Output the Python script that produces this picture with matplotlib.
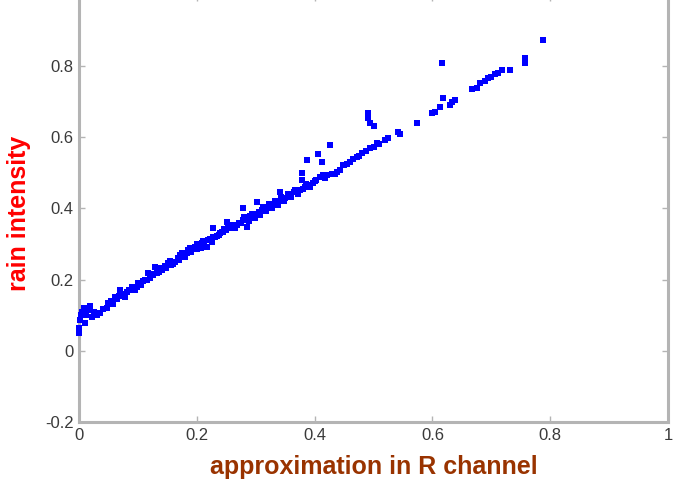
import matplotlib.pyplot as plt

# approximation in R channel vs rain intensity
approx_r = [0.0, 0.0, 0.002, 0.003, 0.005, 0.008, 0.01, 0.012, 0.015, 0.018, 0.022, 0.025, 0.03, 0.035,
            0.048, 0.049, 0.055, 0.061, 0.065, 0.07, 0.074, 0.078, 0.082, 0.09, 0.095, 0.1, 0.105,
            0.112, 0.117, 0.12, 0.125, 0.129, 0.135, 0.141, 0.146, 0.151, 0.157, 0.163, 0.168,
            0.175, 0.18, 0.185, 0.19, 0.197, 0.2, 0.205, 0.209, 0.211, 0.217, 0.219, 0.225, 0.228,
            0.228, 0.231, 0.238, 0.243, 0.245, 0.25, 0.251, 0.256, 0.262, 0.268, 0.272, 0.278,
            0.278, 0.283, 0.285, 0.29, 0.296, 0.3, 0.302, 0.305, 0.31, 0.315, 0.319, 0.325, 0.33,
            0.336, 0.341, 0.345, 0.35, 0.358, 0.365, 0.37, 0.375, 0.378, 0.378, 0.383, 0.387,
            0.39, 0.397, 0.403, 0.406, 0.409, 0.412, 0.415, 0.421, 0.426, 0.43, 0.438, 0.443,
            0.448, 0.45, 0.46, 0.472, 0.476, 0.48, 0.487, 0.49, 0.49, 0.494, 0.494, 0.5, 0.5,
            0.506, 0.51, 0.52, 0.525, 0.542, 0.545, 0.574, 0.599, 0.605, 0.613, 0.616, 0.618,
            0.63, 0.634, 0.638, 0.667, 0.675, 0.681, 0.69, 0.694, 0.7, 0.706, 0.712, 0.718,
            0.732, 0.757, 0.757, 0.788,
            # denser part of the band
            0.04, 0.058, 0.068, 0.085, 0.098, 0.108, 0.115, 0.122, 0.132, 0.138, 0.148, 0.155,
            0.16, 0.17, 0.172, 0.178, 0.183, 0.188, 0.193, 0.2, 0.207, 0.213, 0.222, 0.234,
            0.24, 0.247, 0.253, 0.26, 0.265, 0.275, 0.28, 0.288, 0.293, 0.298, 0.307, 0.312,
            0.318, 0.322, 0.328, 0.333, 0.338, 0.343, 0.348, 0.355, 0.36, 0.367, 0.372, 0.38,
            0.385, 0.393, 0.4, 0.414, 0.418, 0.435, 0.455, 0.465]
rain_int = [0.05, 0.065, 0.087, 0.10, 0.11, 0.12, 0.078, 0.10, 0.115, 0.125, 0.095, 0.11, 0.10, 0.105,
            0.12, 0.134, 0.14, 0.151, 0.145, 0.171, 0.16, 0.151, 0.165, 0.179, 0.172, 0.19, 0.185,
            0.199, 0.219, 0.205, 0.212, 0.235, 0.222, 0.227, 0.238, 0.247, 0.24, 0.25, 0.262,
            0.275, 0.265, 0.283, 0.278, 0.292, 0.285, 0.298, 0.303, 0.31, 0.292, 0.311, 0.305, 0.32,
            0.345, 0.32, 0.325, 0.334, 0.334, 0.34, 0.362, 0.345, 0.348, 0.355, 0.36, 0.367,
            0.401, 0.37, 0.348, 0.378, 0.376, 0.385, 0.418, 0.39, 0.395, 0.4, 0.401, 0.408, 0.41,
            0.415, 0.446, 0.425, 0.43, 0.438, 0.445, 0.447, 0.452, 0.48, 0.5, 0.46, 0.536,
            0.465, 0.471, 0.48, 0.553, 0.488, 0.53, 0.49, 0.494, 0.578, 0.498, 0.502, 0.508,
            0.522, 0.522, 0.53, 0.544, 0.548, 0.556, 0.562, 0.668, 0.654, 0.64, 0.57, 0.631, 0.574,
            0.584, 0.58, 0.592, 0.598, 0.615, 0.61, 0.640, 0.668, 0.672, 0.685, 0.808, 0.710,
            0.69, 0.7, 0.704, 0.735, 0.74, 0.752, 0.758, 0.766, 0.77, 0.777, 0.782, 0.789,
            0.789, 0.822, 0.81, 0.873,
            0.118, 0.133, 0.155, 0.17, 0.18, 0.195, 0.2, 0.215, 0.218, 0.232, 0.232, 0.252,
            0.245, 0.255, 0.268, 0.27, 0.275, 0.29, 0.285, 0.3, 0.29, 0.305, 0.315, 0.322,
            0.33, 0.342, 0.35, 0.355, 0.345, 0.358, 0.375, 0.365, 0.385, 0.372, 0.383, 0.405,
            0.392, 0.412, 0.402, 0.42, 0.41, 0.432, 0.42, 0.442, 0.432, 0.452, 0.44, 0.456,
            0.468, 0.46, 0.478, 0.494, 0.485, 0.497, 0.525, 0.538]
x_ticks = [0, 0.2, 0.4, 0.6, 0.8, 1]
y_ticks = [-0.2, 0, 0.2, 0.4, 0.6, 0.8]

plt.rcParams['font.family'] = ['Liberation Sans', 'DejaVu Sans']

fig = plt.figure(figsize=(6.77, 4.93), dpi=100)
ax = fig.add_axes([79 / 677, 71 / 493, 589 / 677, 427 / 493])

ax.plot(approx_r, rain_int, linestyle='none', marker='s', markersize=4,
        markeredgewidth=0, color='#0000ff', zorder=5, clip_on=False)

ax.set_xlim(0, 1)
ax.set_ylim(-0.2, 1)
ax.set_xticks(x_ticks)
ax.set_xticklabels(['0', '0.2', '0.4', '0.6', '0.8', '1'])
ax.set_yticks(y_ticks)
ax.set_yticklabels(['-0.2', '0', '0.2', '0.4', '0.6', '0.8'])

for s in ax.spines.values():
    s.set_color('#b4b4b4')
    s.set_linewidth(2.2)
ax.tick_params(direction='in', length=4, width=1, color='#b4b4b4',
               top=True, right=True, labelsize=12, labelcolor='#3a3a3a', pad=4)

ax.set_xlabel('approximation in R channel', fontsize=18, fontweight='bold', color='#993300')
ax.set_ylabel('rain intensity', fontsize=18, fontweight='bold', color='#ff0000')
ax.xaxis.set_label_coords(0.5, -0.105)
ax.xaxis.label.set_va('center')
ax.yaxis.set_label_coords(-0.102, 0.488)
ax.yaxis.label.set_va('center')

fig.savefig('out.png', dpi=100)
